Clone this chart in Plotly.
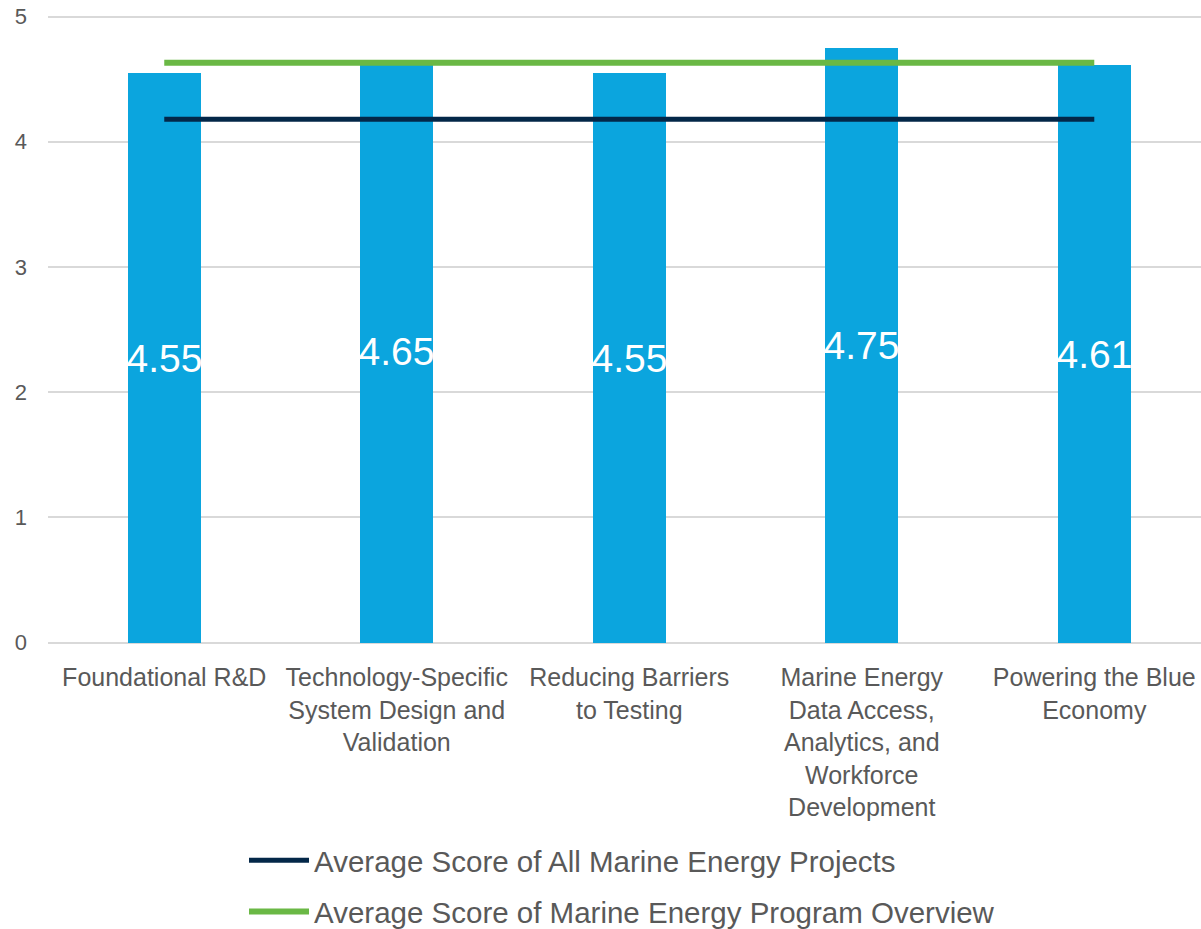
import plotly.graph_objects as go

categories = [
    "Foundational R&D",
    "Technology-Specific<br>System Design and<br>Validation",
    "Reducing Barriers<br>to Testing",
    "Marine Energy<br>Data Access,<br>Analytics, and<br>Workforce<br>Development",
    "Powering the Blue<br>Economy",
]
scores = [4.55, 4.65, 4.55, 4.75, 4.61]
avg_all_projects = [4.18] * 5
avg_program_overview = [4.63] * 5
y_ticks = [0, 1, 2, 3, 4, 5]

font_family = "Liberation Sans, Arial, sans-serif"
grey = "#595959"

fig = go.Figure()
fig.add_trace(go.Bar(
    x=categories, y=scores, width=0.314,
    marker=dict(color="#0BA5DE", line=dict(width=0)),
    text=[f"{v:.2f}" for v in scores],
    textposition="inside", insidetextanchor="middle",
    textangle=0, constraintext="none",
    textfont=dict(color="white", size=39, family=font_family),
    showlegend=False, cliponaxis=False,
))
fig.add_trace(go.Scatter(
    x=categories, y=avg_all_projects, mode="lines",
    line=dict(color="#032748", width=5),
    name="Average Score of All Marine Energy Projects",
    legendgroup="a",
))
fig.add_trace(go.Scatter(
    x=categories, y=avg_program_overview, mode="lines",
    line=dict(color="#6AB845", width=6),
    name="Average Score of Marine Energy Program Overview",
    legendgroup="b",
))

fig.update_layout(
    width=1201, height=929,
    margin=dict(l=48, r=0, t=14, b=284, autoexpand=False),
    paper_bgcolor="white", plot_bgcolor="white",
    font=dict(family=font_family, color=grey),
    bargap=0,
    uniformtext=dict(minsize=39, mode="show"),
    legend=dict(
        orientation="v", x=0.170, xanchor="left", y=-0.3004, yanchor="top",
        font=dict(size=29.5, color=grey), tracegroupgap=10,
        itemwidth=60,
    ),
    xaxis=dict(
        range=[-0.5, 4.459], showgrid=False, zeroline=False,
        showline=False, ticks="", tickfont=dict(size=25, color=grey),
        ticklabelstandoff=15, automargin=False,
    ),
    yaxis=dict(
        range=[-0.02, 5.02], tickvals=y_ticks, showgrid=True, gridcolor="#D9D9D9",
        gridwidth=2, zeroline=False, showline=False, ticks="",
        tickfont=dict(size=22, color=grey), ticklabelstandoff=20,
        ticklabeloverflow="allow", automargin=False,
    ),
)

fig.write_html(
    "out.html",
    config={"displayModeBar": False},
    post_script="document.body.style.margin='0';document.body.style.overflow='hidden';",
)
